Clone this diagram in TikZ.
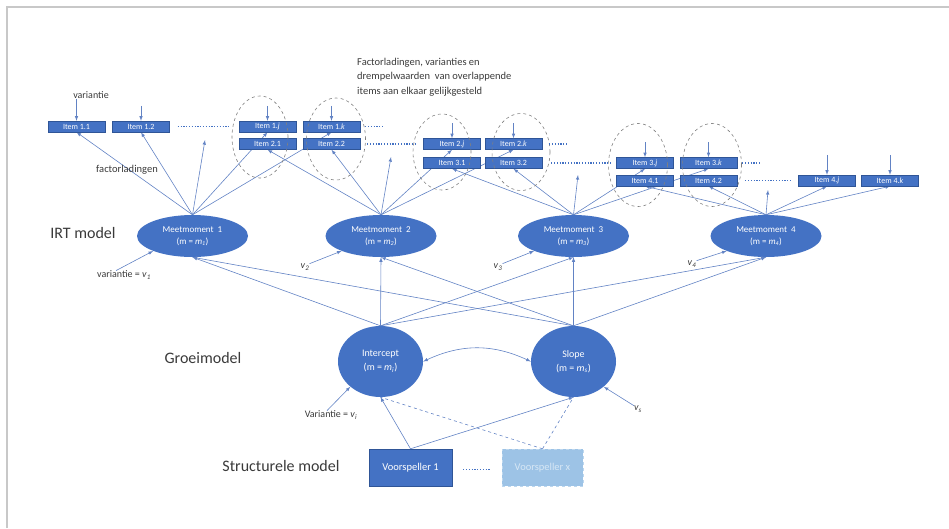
\documentclass[tikz,border=0pt]{standalone}
\usepackage{fontspec}
\setmainfont{Carlito}
\usepackage{tikz}
\usetikzlibrary{shapes.geometric, arrows, positioning, backgrounds}
\definecolor{itemblue}{HTML}{4472C4}
\definecolor{itemedge}{HTML}{2F5597}
\definecolor{linkblue}{HTML}{6283C4}
\definecolor{paleblue}{HTML}{9DC3E6}
\definecolor{paleedge}{HTML}{BDD7EE}
\definecolor{labelgray}{HTML}{3A3A3A}
\definecolor{framegray}{HTML}{C8C8C8}
\newcommand{\ivar}[2]{\textit{#1}\textsubscript{\textit{#2}}}
\tikzstyle{item} = [rectangle, minimum width=57pt, minimum height=11pt, inner sep=0pt, text=white, fill=itemblue, draw=itemedge, line width=0.4pt, font=\fontsize{8}{9}\selectfont]
\tikzstyle{moment} = [ellipse, minimum width=111pt, minimum height=42pt, inner sep=0pt, align=center, text=white, fill=itemblue, font=\fontsize{9}{12}\selectfont]
\tikzstyle{growth} = [ellipse, minimum width=85pt, minimum height=71pt, inner sep=0pt, align=center, text=white, fill=itemblue, font=\fontsize{10}{14}\selectfont]
\tikzstyle{predictor} = [rectangle, minimum width=83pt, minimum height=37pt, inner sep=0pt, font=\fontsize{10.5}{12}\selectfont]
\tikzstyle{arrow} = [->, >=latex, draw=linkblue, line width=0.6pt]

\begin{document}
\begin{tikzpicture}[
    x=1pt, y=-1pt,
    group/.style={ellipse, draw=gray, dashed, line width=0.6pt},
    dots/.style={draw=itemblue, line width=1.3pt, dash pattern=on 1.2pt off 1.6pt},
    label/.style={text=labelgray, inner sep=0pt}
]
\useasboundingbox (0,0) rectangle (949,528);
\draw[framegray, line width=2pt] (7,528) -- (7,7) -- (949,7);

% Items
\node (i11) [item] at (76.5,126.5) {Item 1.1};
\node (i12) [item] at (141,126.5) {Item 1.2};
\node (i1j) [item] at (267.5,126.5) {Item 1.\textit{j}};
\node (i21) [item] at (267.5,144) {Item 2.1};
\node (i1k) [item] at (331.5,126.5) {Item 1.\textit{k}};
\node (i22) [item] at (331.5,144) {Item 2.2};
\node (i2j) [item] at (452,144) {Item 2.\textit{j}};
\node (i31) [item] at (452,163) {Item 3.1};
\node (i2k) [item] at (513.5,144) {Item 2.\textit{k}};
\node (i32) [item] at (513.5,163) {Item 3.2};
\node (i3j) [item] at (645,163) {Item 3.\textit{j}};
\node (i41) [item] at (645,180.5) {Item 4.1};
\node (i3k) [item] at (708.5,163) {Item 3.\textit{k}};
\node (i42) [item] at (708.5,180.5) {Item 4.2};
\node (i4j) [item] at (827,180.5) {Item 4.\textit{j}};
\node (i4k) [item] at (890,180.5) {Item 4.\textit{k}};

% Overlapping items
\node (g1) [group, minimum width=56pt, minimum height=82pt] at (260,137) {};
\node (g2) [group, minimum width=59pt, minimum height=82pt] at (336,139) {};
\node (g3) [group, minimum width=58pt, minimum height=76pt] at (442,152) {};
\node (g4) [group, minimum width=58pt, minimum height=77pt] at (521,152) {};
\node (g5) [group, minimum width=59pt, minimum height=83pt] at (638,165) {};
\node (g6) [group, minimum width=59pt, minimum height=83pt] at (712,165) {};

% Measurement moments
\node (mm1) [moment] at (192.5,236) {Meetmoment~~1\\(m = \ivar{m}{1})};
\node (mm2) [moment] at (381,236) {Meetmoment~~2\\(m = \ivar{m}{2})};
\node (mm3) [moment] at (573.5,236) {Meetmoment~~3\\(m = \ivar{m}{3})};
\node (mm4) [moment] at (766,236) {Meetmoment~~4\\(m = \ivar{m}{4})};

% Growth factors and predictors
\node (icpt) [growth] at (380.5,361.5) {Intercept\\(m = \ivar{m}{i})};
\node (slope) [growth] at (573.5,361.5) {Slope\\(m = \ivar{m}{s})};
\node (vs1) [predictor, fill=itemblue, draw=itemedge, text=white] at (410.5,467.5) {Voorspeller 1};
\node (vsx) [predictor, minimum width=81pt, fill=paleblue, draw=paleedge, dashed, text=paleedge!60!white] at (542.5,467.5) {Voorspeller x};

% Labels
\node (note) [label, anchor=north west, align=left, font=\fontsize{10.5}{14.5}\selectfont] at (357,58) {Factorladingen, varianties en\\drempelwaarden~ van overlappende\\items aan elkaar gelijkgesteld};
\node (varitem) [label, font=\fontsize{10}{12}\selectfont] at (91,95) {variantie};
\node (factor) [label, font=\fontsize{10.5}{12}\selectfont] at (127,170) {factorladingen};
\node (irt) [label, font=\fontsize{16}{19}\selectfont] at (83,233) {IRT model};
\node (groei) [label, font=\fontsize{16}{19}\selectfont] at (203,358) {Groeimodel};
\node (struct) [label, font=\fontsize{16}{19}\selectfont] at (281,466) {Structurele model};
\node (var1) [label, font=\fontsize{10}{12}\selectfont] at (124,275) {variantie = \ivar{v}{1}};
\node (var2) [label, font=\fontsize{10}{12}\selectfont] at (305,267) {\ivar{v}{2}};
\node (var3) [label, font=\fontsize{10}{12}\selectfont] at (498,267) {\ivar{v}{3}};
\node (var4) [label, font=\fontsize{10}{12}\selectfont] at (692,264) {\ivar{v}{4}};
\node (vari) [label, font=\fontsize{10}{12}\selectfont] at (331,415) {Variantie = \ivar{v}{i}};
\node (vars) [label, font=\fontsize{10}{12}\selectfont] at (638,409) {\ivar{v}{s}};

\coordinate (gap1) at (205,140);
\coordinate (gap2) at (391,157);
\coordinate (gap3) at (578,175);
\coordinate (gap4) at (768,190);

% Arrows
\begin{pgfonlayer}{background}
\foreach \t in {i11.south,i12.south,gap1,i1j.south,i1k.south}
    \draw[arrow] (mm1.north) -- (\t);
\foreach \t in {i21.south,i22.south,gap2,i2j.south,i2k.south}
    \draw[arrow] (mm2.north) -- (\t);
\foreach \t in {i31.south,i32.south,gap3,i3j.south,i3k.south}
    \draw[arrow] (mm3.north) -- (\t);
\foreach \t in {i41.south,i42.south,gap4,i4j.south,i4k.south}
    \draw[arrow] (mm4.north) -- (\t);
\end{pgfonlayer}

\foreach \m in {mm1,mm2,mm3,mm4} {
    \draw[arrow] (icpt.north) -- (\m.south);
    \draw[arrow] (slope.north) -- (\m.south);
}

% Variances
\draw[arrow] (varitem.south -| i11.north) -- (i11.north);
\foreach \n in {i12,i1j,i1k,i2j,i2k,i3j,i3k}
    \draw[arrow] ([yshift=15pt]\n.north) -- (\n.north);
\foreach \n in {i4j,i4k}
    \draw[arrow] ([yshift=20pt]\n.north) -- (\n.north);
\draw[arrow] ([xshift=-8pt]var1.north) -- (mm1.south west);
\draw[arrow] (var2.north east) -- (mm2.south west);
\draw[arrow] (var3.north east) -- (mm3.south west);
\draw[arrow] (var4.north east) -- (mm4.south west);
\draw[arrow] ([xshift=-4pt]vari.north) -- (icpt.south west);
\draw[arrow] (vars.north west) -- (slope.south east);

% Growth model
\draw[arrow, <->] (icpt.east) to[bend left=25] (slope.west);
\draw[arrow] (vs1.north) -- (icpt.south);
\draw[arrow] (vs1.north) -- (slope.south);
\draw[linkblue, dashed, line width=0.6pt] (vsx.north) -- (icpt.south);
\draw[linkblue, dashed, line width=0.6pt] (vsx.north) -- (slope.south);

% Dotted continuations
\draw[dots] ([xshift=8pt]i12.east) -- ([xshift=-8pt]i1j.west);
\draw[dots] ([xshift=5pt]i1k.east) -- ([xshift=22pt]i1k.east);
\draw[dots] ([xshift=7pt]i22.east) -- ([xshift=-6pt]i2j.west);
\draw[dots] ([xshift=7pt]i2k.east) -- ([xshift=24pt]i2k.east);
\draw[dots] ([xshift=9pt]i32.east) -- ([xshift=-5pt]i3j.west);
\draw[dots] ([xshift=5pt]i3k.east) -- ([xshift=23pt]i3k.east);
\draw[dots] ([xshift=8pt]i42.east) -- ([xshift=-7pt]i4j.west);
\draw[dots] ([xshift=11pt,yshift=-2pt]vs1.east) -- ([xshift=-12pt,yshift=-2pt]vsx.west);

\end{tikzpicture}
\end{document}
